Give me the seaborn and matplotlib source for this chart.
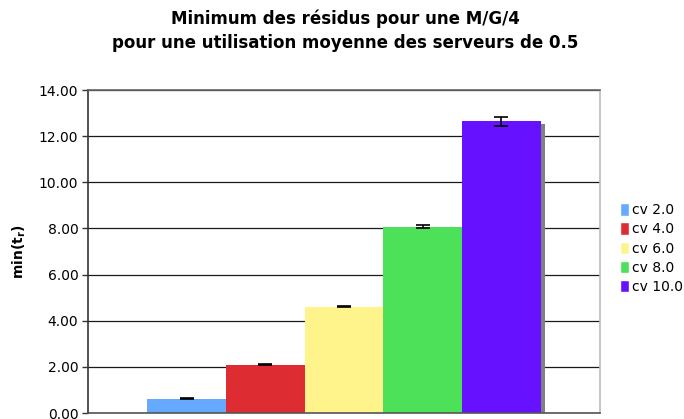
import matplotlib
matplotlib.use("Agg")
import matplotlib.pyplot as plt
import matplotlib.patheffects as pe
import seaborn as sns

# values
cv_labels = ['cv 2.0', 'cv 4.0', 'cv 6.0', 'cv 8.0', 'cv 10.0']
min_tr = [0.61, 2.09, 4.61, 8.07, 12.65]
err = [0.02, 0.02, 0.03, 0.06, 0.20]
group = ['', '', '', '', '']
colors = ['#66AAFF', '#DD2D33', '#FFF38C', '#4CE159', '#6611FF']

sns.set_style("white")
plt.rcParams['font.family'] = ['DejaVu Sans']
plt.rcParams['text.color'] = 'black'

fig = plt.figure(figsize=(6.84, 4.19), dpi=100)
ax = fig.add_axes([88 / 684, 1 - 413 / 419, 512 / 684, 323 / 419])

sns.barplot(x=group, y=min_tr, hue=cv_labels, palette=colors,
            saturation=1, width=0.8, errorbar=None, ax=ax)

shadow = [pe.SimplePatchShadow(offset=(2.9, -2.2), shadow_rgbFace='#808080', alpha=1.0), pe.Normal()]
for cont, e in zip(ax.containers, err):
    bar = cont.patches[0]
    bar.set_path_effects(shadow)
    bar.set_edgecolor('none')
    ax.errorbar(bar.get_x() + bar.get_width() / 2, bar.get_height(), yerr=e,
                fmt='none', ecolor='black', elinewidth=1.2, capsize=5, capthick=1.2, zorder=5)

ax.set_xlim(-0.521, 0.521)
ax.set_ylim(0, 14)
ax.set_yticks(range(0, 15, 2))
ax.set_yticklabels([f'{v:.2f}' for v in range(0, 15, 2)], fontsize=10, color='black')
ax.set_xticks([])
ax.yaxis.grid(True, color='#1a1a1a', linewidth=0.9)
ax.set_axisbelow(True)
ax.tick_params(axis='y', direction='out', length=4, width=1, color='#333333', left=True, pad=3)

ax.spines['left'].set_color('#333333')
ax.spines['bottom'].set_color('#555555')
ax.spines['top'].set_color('#666666')
ax.spines['right'].set_color('#bbbbbb')
for s in ax.spines.values():
    s.set_linewidth(1.2)

ax.set_ylabel(r'min(t$_\mathregular{r}$)', fontsize=10, fontweight='bold', labelpad=8, color='black')

fig.suptitle('Minimum des résidus pour une M/G/4\npour une utilisation moyenne des serveurs de 0.5',
             x=345 / 684, y=1 - 10 / 419, va='top', fontsize=12, fontweight='bold',
             linespacing=1.38, color='black')

sns.move_legend(ax, 'center left', bbox_to_anchor=(1.028, 0.509), frameon=False, title=None,
                fontsize=10, handlelength=0.65, handleheight=1.0, labelspacing=0.37,
                handletextpad=0.2, borderaxespad=0)

fig.savefig('out.png', dpi=100)
